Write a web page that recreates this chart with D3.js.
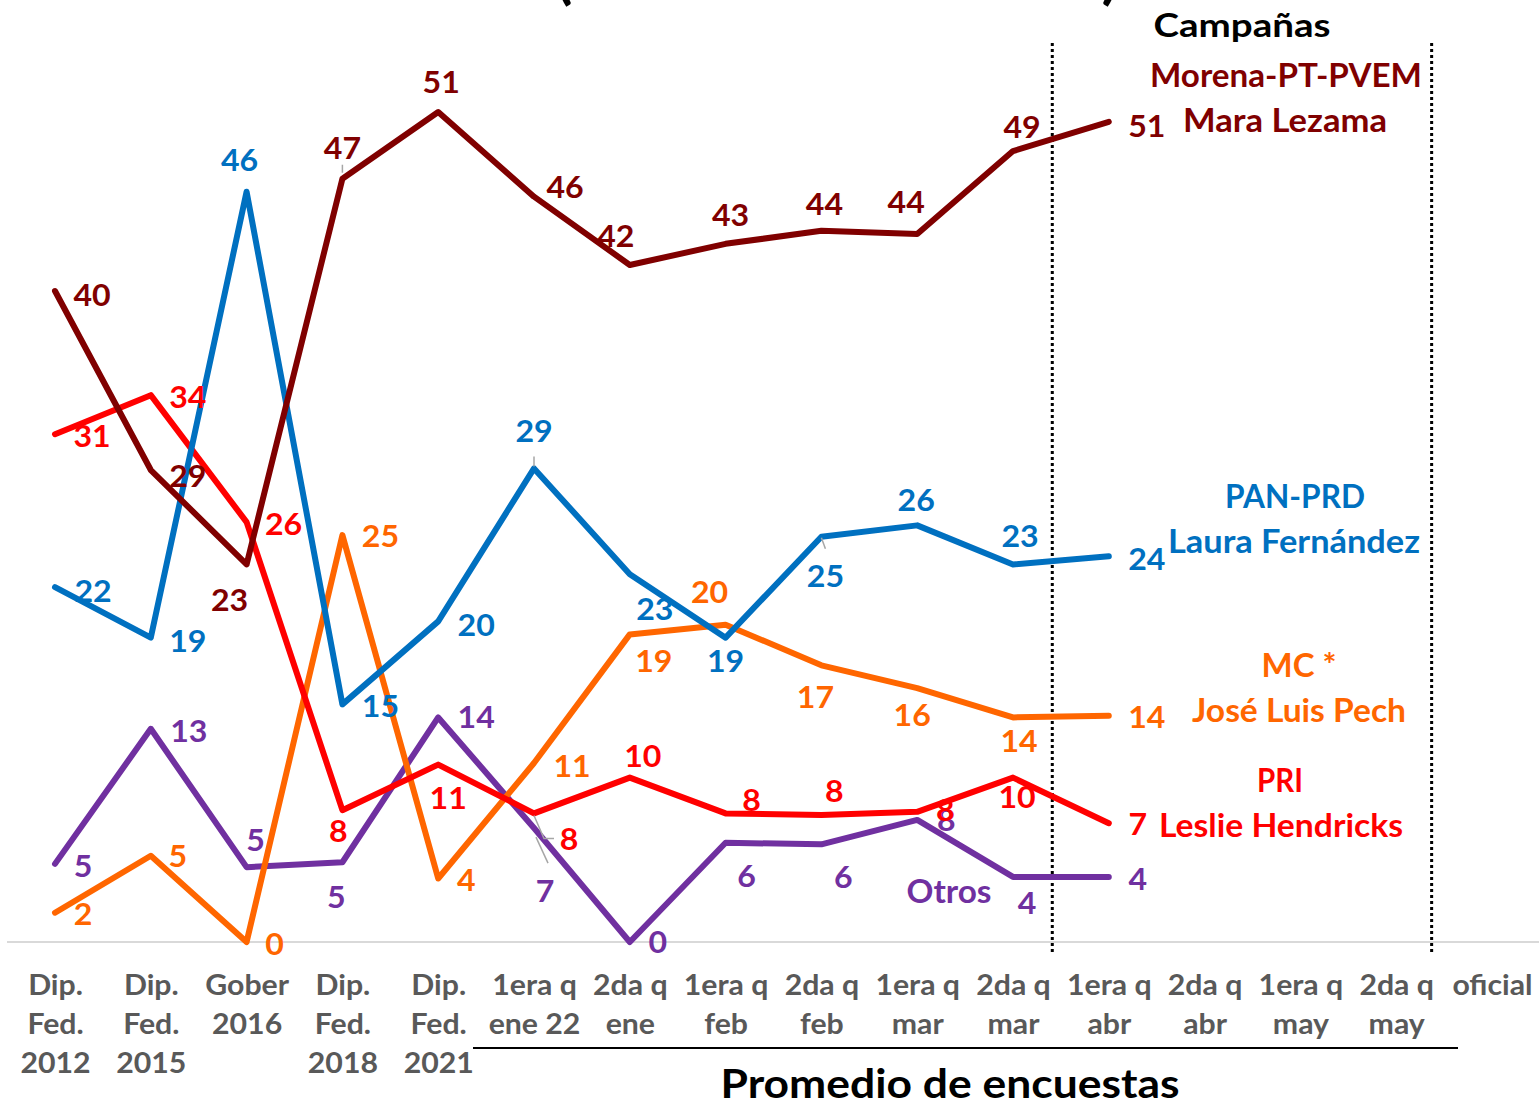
<!DOCTYPE html>
<html>
<head>
<meta charset="utf-8">
<script src="https://cdn.jsdelivr.net/npm/d3@7"></script>
<style>
  html, body { margin: 0; padding: 0; background: #fff; }
  svg { display: block; }
  text { font-family: Lato, "Open Sans", sans-serif; font-weight: 700; }
</style>
</head>
<body>
<svg id="chart" width="1539" height="1106"></svg>
<script>
// ---------- DATA ----------
const categories = [
  ["Dip.", "Fed.", "2012"], ["Dip.", "Fed.", "2015"], ["Gober", "2016"],
  ["Dip.", "Fed.", "2018"], ["Dip.", "Fed.", "2021"],
  ["1era q", "ene 22"], ["2da q", "ene"], ["1era q", "feb"], ["2da q", "feb"],
  ["1era q", "mar"], ["2da q", "mar"], ["1era q", "abr"], ["2da q", "abr"],
  ["1era q", "may"], ["2da q", "may"], ["oficial"]
];
const morena = [40, 29, 23.2, 46.9, 51, 45.8, 41.6, 42.9, 43.7, 43.5, 48.6, 50.4];
const morenaLabels = ["40","29","23","47","51","46","42","43","44","44","49","51"];
const pan = [21.8, 18.7, 46.1, 14.6, 19.7, 29.1, 22.6, 18.7, 24.9, 25.6, 23.2, 23.7];
const panLabels = ["22","19","46","15","20","29","23","19","25","26","23","24"];
const pri = [31.2, 33.6, 25.8, 8.1, 10.9, 7.9, 10.1, 7.9, 7.8, 8.0, 10.1, 7.3];
const priLabels = ["31","34","26","8","11","8","10","8","8","8","10","7"];
const mc = [1.8, 5.3, 0, 25.0, 3.9, 11.0, 18.9, 19.5, 17.0, 15.6, 13.8, 13.9];
const mcLabels = ["2","5","0","25","4","11","19","20","17","16","14","14"];
const otros = [4.8, 13.1, 4.6, 4.9, 13.8, 7.0, 0, 6.1, 6.0, 7.5, 4.0, 4.0];
const otrosLabels = ["5","13","5","5","14","7","0","6","6","8","4","4"];

// ---------- LAYOUT (label placement relative to points) ----------
const morenaOffsets = [[37,15],[37,17],[-17,47],[0,-20],[3,-19],[31,1],[-14,-18],[5,-18],[3,-16],[-11,-21],[9,-13],[38,15]];
const panOffsets    = [[38,15],[37,14],[-7,-21],[38,13],[38,15],[0,-26],[25,46],[0,34],[4,50],[-1,-14],[7,-17],[38,14]];
const priOffsets    = [[37,13],[37,13],[37,13],[-4,32],[10,44],[35,37],[13,-11],[26,-2],[13,-13],[28,9],[4,30],[29,12]];
const mcOffsets     = [[28,12],[27,11],[28,13],[38,12],[28,12],[38,14],[24,38],[-16,-22],[-6,43],[-5,38],[6,35],[38,12]];
const otrosOffsets  = [[28,13],[38,13],[9,-16],[-6,46],[38,11],[11,74],[28,11],[21,44],[22,44],[29,11],[14,37],[29,13]];

const W = 1539, H = 1106;
const svg = d3.select("#chart");

const x = d3.scalePoint().domain(d3.range(categories.length)).range([55, 1492]);
const y = d3.scaleLinear().domain([0, 51]).range([942, 112]);
const step = x.step();

const series = [
  { name: "otros",  values: otros,  labels: otrosLabels,  offsets: otrosOffsets,  color: "#7030A0" },
  { name: "mc",     values: mc,     labels: mcLabels,     offsets: mcOffsets,     color: "#FF6600" },
  { name: "pri",    values: pri,    labels: priLabels,    offsets: priOffsets,    color: "#FF0000" },
  { name: "pan",    values: pan,    labels: panLabels,    offsets: panOffsets,    color: "#0070C0" },
  { name: "morena", values: morena, labels: morenaLabels, offsets: morenaOffsets, color: "#800000" }
];

// title remnants (cut off at top)
svg.append("text").attr("x", 564).attr("y", -3).attr("text-anchor", "middle")
  .attr("font-size", 62).attr("fill", "#000").text("(");
svg.append("text").attr("x", 1110).attr("y", -3).attr("text-anchor", "middle")
  .attr("font-size", 62).attr("fill", "#000").text(")");

// baseline (category axis)
svg.append("line").attr("x1", 7).attr("x2", W).attr("y1", y(0)).attr("y2", y(0))
  .attr("stroke", "#d9d9d9").attr("stroke-width", 2);

// x axis tick labels
const xAxis = d3.axisBottom(x).tickSize(0).tickFormat(() => "");
const gx = svg.append("g").attr("transform", `translate(0,${y(0)})`).call(xAxis);
gx.select(".domain").remove();
gx.selectAll(".tick").each(function(d) {
  const t = d3.select(this).append("text")
    .attr("text-anchor", "middle").attr("fill", "#595959")
    .attr("font-size", 28).attr("transform", "scale(1.08,1)");
  categories[d].forEach((line, k) => {
    t.append("tspan").attr("x", 0).attr("y", 53 + k * 39).text(line);
  });
});

// dotted separators
[[10, 0.41], [14, 0.37]].forEach(([i, f]) => {
  svg.append("line").attr("x1", x(i) + f * step).attr("x2", x(i) + f * step)
    .attr("y1", 43).attr("y2", 952)
    .attr("stroke", "#000").attr("stroke-width", 3).attr("stroke-dasharray", "3,3");
});

// lines
const line = d3.line().x((d, i) => x(i)).y(d => y(d));
series.forEach(s => {
  svg.append("path").datum(s.values)
    .attr("fill", "none").attr("stroke", s.color).attr("stroke-width", 6)
    .attr("stroke-linejoin", "round").attr("stroke-linecap", "round")
    .attr("d", line);
});

// leader lines
const leaders = [
  { s: morena, i: 3, pts: [[0,-6],[0,-14]] },
  { s: pan, i: 5, pts: [[0,-2],[0,-12]] },
  { s: pan, i: 8, pts: [[0,1],[4,12]] },
  { s: pri, i: 5, pts: [[0,2],[10,25],[20,25]] },
  { s: otros, i: 5, pts: [[2,9],[14,35]] }
];
leaders.forEach(l => {
  const px = x(l.i), py = y(l.s[l.i]);
  svg.append("path")
    .attr("d", d3.line()(l.pts.map(p => [px + p[0], py + p[1]])))
    .attr("fill", "none").attr("stroke", "#a6a6a6").attr("stroke-width", 1.5);
});

// data labels
series.forEach(s => {
  svg.append("g").selectAll("text").data(s.values).join("text")
    .attr("transform", (d, i) =>
      `translate(${x(i) + s.offsets[i][0]},${y(d) + s.offsets[i][1]}) scale(1.07,1)`)
    .attr("text-anchor", "middle").attr("font-size", 30)
    .attr("fill", s.color)
    .text((d, i) => s.labels[i]);
});

// annotations (w = width in the reference, used to stretch glyphs)
const notes = [
  { t: "Campañas", x: 1242, y: 37, c: "#000", fs: 33, w: 177 },
  { t: "Morena-PT-PVEM", x: 1286, y: 87, c: "#800000", fs: 32, w: 272 },
  { t: "Mara Lezama", x: 1285, y: 132, c: "#800000", fs: 32, w: 204 },
  { t: "PAN-PRD", x: 1295, y: 508, c: "#0070C0", fs: 32, w: 140 },
  { t: "Laura Fernández", x: 1294, y: 553, c: "#0070C0", fs: 32, w: 252 },
  { t: "MC *", x: 1299, y: 677, c: "#FF6600", fs: 32, w: 75 },
  { t: "José Luis Pech", x: 1299, y: 722, c: "#FF6600", fs: 32, w: 214 },
  { t: "PRI", x: 1280, y: 792, c: "#FF0000", fs: 32, w: 46 },
  { t: "Leslie Hendricks", x: 1281, y: 837, c: "#FF0000", fs: 32, w: 244 },
  { t: "Otros", x: 949, y: 903, c: "#7030A0", fs: 32, w: 85 }
];
notes.forEach(n => {
  svg.append("text").attr("x", n.x - n.w / 2).attr("y", n.y)
    .attr("textLength", n.w).attr("lengthAdjust", "spacingAndGlyphs")
    .attr("font-size", n.fs).attr("fill", n.c).text(n.t);
});

// bottom bracket + caption
svg.append("line").attr("x1", 473).attr("x2", 1458).attr("y1", 1048).attr("y2", 1048)
  .attr("stroke", "#000").attr("stroke-width", 2);
svg.append("text").attr("x", 950 - 459 / 2).attr("y", 1098)
  .attr("textLength", 459).attr("lengthAdjust", "spacingAndGlyphs")
  .attr("font-size", 40).attr("fill", "#000").text("Promedio de encuestas");
</script>
</body>
</html>
